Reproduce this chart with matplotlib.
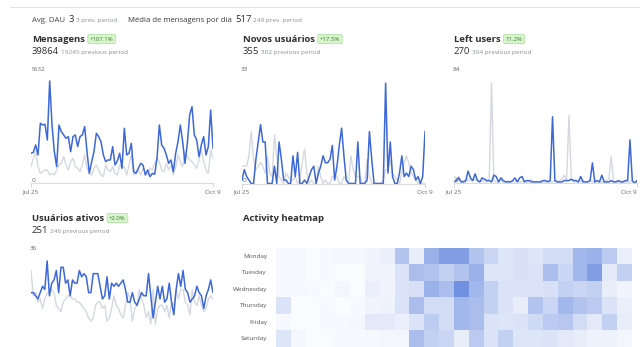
import matplotlib.pyplot as plt
from matplotlib.colors import LinearSegmentedColormap

plt.rcParams['font.family'] = ['Open Sans', 'DejaVu Sans']

############################# data ################################
date_labels = ["Jul 25", "Oct 9"]

msg_cur = [429, 444, 549, 406, 859, 835, 844, 620, 1465, 835,
           453, 239, 835, 739, 692, 644, 668, 453, 668, 692,
           525, 668, 692, 811, 453, 143, 310, 453, 716, 668,
           596, 406, 310, 334, 334, 525, 262, 320, 429, 215,
           787, 406, 429, 572, 167, 143, 215, 286, 262, 119,
           191, 95, 143, 129, 358, 835, 549, 501, 406, 286,
           334, 167, 429, 596, 835, 596, 286, 572, 978, 1097,
           692, 620, 382, 549, 668, 406, 525, 1049, 501]
msg_prev = [239, 358, 453, 239, 143, 167, 191, 191, 119, 143,
            119, 191, 262, 286, 382, 262, 191, 310, 358, 239,
            215, 167, 262, 406, 215, 143, 119, 215, 262, 191,
            119, 95, 262, 191, 167, 239, 143, 119, 262, 215,
            239, 119, 262, 406, 119, 143, 191, 119, 215, 143,
            119, 215, 191, 286, 358, 310, 191, 167, 286, 191,
            262, 119, 239, 406, 310, 239, 453, 382, 334, 310,
            262, 215, 334, 477, 310, 191, 143, 477, 358]

new_cur = [1, 4, 2, 1, 0, 0, 7, 12, 17, 12,
           12, 0, 0, 0, 5, 0, 12, 7, 1, 1,
           0, 0, 8, 2, 9, 0, 0, 1, 0, 2,
           4, 5, 0, 3, 5, 8, 6, 6, 7, 11,
           1, 5, 11, 16, 8, 1, 0, 0, 0, 0,
           12, 0, 0, 0, 1, 15, 7, 0, 0, 0,
           0, 0, 29, 3, 12, 2, 0, 0, 3, 8,
           2, 3, 2, 5, 4, 1, 2, 0, 2, 15]
new_prev = [5, 5, 5, 8, 15, 7, 4, 5, 6, 5,
            3, 8, 3, 2, 14, 8, 2, 1, 0, 3,
            2, 1, 1, 2, 0, 1, 6, 10, 3, 0,
            1, 0, 0, 5, 2, 0, 1, 0, 0, 2,
            2, 2, 0, 0, 2, 1, 0, 8, 4, 2,
            2, 2, 0, 0, 7, 2, 0, 0, 0, 0,
            0, 1, 4, 4, 7, 3, 2, 1, 0, 3,
            6, 8, 6, 3, 2, 1, 0, 0, 0, 0]

left_cur = [1, 2, 4, 1, 1, 2, 9, 4, 2, 7,
            2, 1, 4, 3, 2, 2, 1, 6, 5, 1,
            4, 2, 1, 1, 1, 2, 4, 1, 4, 5,
            1, 2, 2, 1, 1, 1, 1, 1, 2, 2,
            1, 2, 49, 2, 1, 1, 1, 2, 2, 2,
            3, 2, 2, 1, 5, 1, 1, 1, 2, 15,
            1, 2, 1, 6, 1, 1, 1, 2, 1, 1,
            2, 1, 1, 2, 2, 32, 2, 0, 2]
left_prev = [5, 4, 5, 2, 2, 1, 3, 2, 2, 3,
             2, 1, 2, 1, 1, 3, 74, 2, 1, 1,
             2, 1, 1, 2, 1, 1, 1, 2, 1, 1,
             2, 1, 1, 3, 1, 1, 1, 2, 1, 1,
             2, 1, 1, 2, 1, 2, 3, 6, 2, 50,
             3, 1, 2, 1, 1, 2, 1, 1, 2, 1,
             1, 2, 1, 1, 1, 2, 3, 20, 2, 1,
             1, 2, 1, 1, 1, 1, 2, 1, 1]

active_cur = [22, 22, 21, 20, 22, 24, 23, 32, 21, 25,
              26, 29, 22, 30, 30, 25, 26, 21, 26, 25,
              25, 29, 27, 28, 27, 22, 22, 28, 28, 28,
              24, 20, 21, 27, 20, 25, 24, 25, 24, 25,
              26, 23, 19, 19, 22, 19, 18, 20, 22, 21,
              21, 28, 21, 14, 19, 24, 20, 24, 19, 20,
              25, 19, 15, 23, 28, 24, 29, 23, 22, 19,
              20, 21, 24, 22, 21, 17, 21, 23, 26, 22]
active_prev = [29, 21, 22, 19, 20, 17, 20, 22, 22, 23,
               22, 18, 17, 16, 19, 20, 21, 21, 20, 20,
               19, 19, 18, 17, 16, 14, 13, 14, 18, 19,
               19, 17, 18, 13, 14, 17, 21, 18, 17, 15,
               14, 18, 22, 20, 13, 17, 18, 23, 20, 18,
               14, 16, 12, 23, 12, 17, 18, 18, 16, 18,
               14, 19, 18, 23, 20, 23, 23, 19, 18, 15,
               23, 19, 18, 21, 18, 16, 17, 20, 21, 20]

heat_days = ["Monday", "Tuesday", "Wednesday", "Thursday", "Friday", "Saturday"]
heat = [
    [0.03, 0.03, 0.01, 0.02, 0.04, 0.04, 0.06, 0.10, 0.45, 0.12, 0.60, 0.75,
     0.75, 0.45, 0.30, 0.18, 0.22, 0.18, 0.25, 0.25, 0.55, 0.60, 0.40, 0.10],
    [0.03, 0.03, 0.01, 0.02, 0.00, 0.01, 0.06, 0.07, 0.20, 0.50, 0.45, 0.35,
     0.45, 0.60, 0.18, 0.18, 0.22, 0.20, 0.50, 0.30, 0.55, 0.75, 0.15, 0.35],
    [0.03, 0.03, 0.02, 0.01, 0.05, 0.01, 0.10, 0.06, 0.20, 0.22, 0.60, 0.50,
     0.85, 0.55, 0.35, 0.20, 0.20, 0.20, 0.22, 0.35, 0.30, 0.35, 0.12, 0.06],
    [0.20, 0.00, 0.01, 0.02, 0.00, 0.02, 0.06, 0.08, 0.20, 0.50, 0.25, 0.25,
     0.55, 0.50, 0.35, 0.20, 0.12, 0.45, 0.30, 0.55, 0.45, 0.40, 0.20, 0.10],
    [0.03, 0.01, 0.01, 0.02, 0.02, 0.04, 0.15, 0.15, 0.10, 0.20, 0.38, 0.25,
     0.55, 0.50, 0.20, 0.18, 0.20, 0.28, 0.40, 0.42, 0.25, 0.15, 0.35, 0.12],
    [0.18, 0.04, 0.01, 0.01, 0.02, 0.02, 0.03, 0.05, 0.05, 0.50, 0.35, 0.30,
     0.12, 0.40, 0.20, 0.35, 0.18, 0.18, 0.20, 0.15, 0.12, 0.08, 0.08, 0.05],
]

BLUE = "#3d68d8"
GREY = "#d5d8de"
DARK = "#2f2f33"
MUTED = "#8a8d93"
W, H = 640, 347

fig = plt.figure(figsize=(W / 100, H / 100), dpi=100)
bg = fig.add_axes([0, 0, 1, 1])
bg.set_xlim(0, W)
bg.set_ylim(H, 0)
bg.axis("off")
renderer = fig.canvas.get_renderer()


def text_run(x, y, parts):
    # parts: (text, size, color, weight, gap before)
    for s, size, color, weight, gap in parts:
        x += gap
        t = bg.text(x, y, s, fontsize=size, color=color, fontweight=weight,
                    va="baseline", ha="left")
        x += t.get_window_extent(renderer).width
    return x


def badge(x, y, s):
    bg.text(x, y, s, fontsize=4.3, color="#3d7a2e", va="center", ha="left",
            bbox=dict(boxstyle="round,pad=0.35,rounding_size=0.25",
                      fc="#d8f5cd", ec="#a9df98", lw=0.5))


def header(x, y, title, pct, value, prev):
    end = text_run(x, y, [(title, 6.8, DARK, "bold", 0)])
    badge(end + 5, y - 2.5, pct)
    text_run(x, y + 12.5, [(value, 6.8, DARK, "normal", 0),
                           (prev + " previous period", 4.6, MUTED, "normal", 2)])


def panel(x0, x1, ytop, ybot, cur, prev, top, axis=True, last_ha="center"):
    ax = fig.add_axes([x0 / W, (H - ybot) / H, (x1 - x0) / W, (ybot - ytop) / H])
    n = max(len(cur), len(prev))
    ax.plot(range(len(prev)), prev, color=GREY, lw=1.0)
    ax.plot(range(len(cur)), cur, color=BLUE, lw=1.1)
    ax.set_xlim(0, n - 1)
    ax.set_ylim(0, top)
    for side in ["top", "right", "left"]:
        ax.spines[side].set_visible(False)
    ax.spines["bottom"].set_color("#dcdcdc")
    ax.spines["bottom"].set_linewidth(0.8)
    ax.set_yticks([])
    ax.patch.set_alpha(0)
    ax.text(-0.005, 1.0, str(top), transform=ax.transAxes, fontsize=4.6,
            color="#666666", va="center", ha="left")
    if axis:
        ax.set_xticks([0, n - 1])
        labels = ax.set_xticklabels(date_labels, fontsize=4.6, color="#666666")
        labels[-1].set_horizontalalignment(last_ha)
        ax.tick_params(axis="x", length=3, width=0.6, color="#d0d0d0", pad=1.5)
        ax.text(0.003, 0.0, "0", transform=ax.transAxes, fontsize=4.6,
                color="#666666", va="bottom", ha="left")
    else:
        ax.set_xticks([])
    return ax


# top summary strip
bg.plot([10, W], [7, 7], color="#e4e4e4", lw=0.8)
text_run(32, 21.5, [("Avg. DAU", 5.6, "#4a4a4f", "normal", 0),
                    ("3", 6.8, DARK, "normal", 3),
                    ("3 prev. period", 4.6, MUTED, "normal", 2)])
text_run(128, 21.5, [("Média de mensagens por dia", 5.6, "#3a3a3f", "normal", 0),
                     ("517", 6.8, DARK, "normal", 3),
                     ("249 prev. period", 4.6, MUTED, "normal", 2)])

# line panels
header(32, 41.5, "Mensagens", "+107.1%", "39864", "19245")
panel(31, 213, 69.3, 183.3, msg_cur, msg_prev, 1632)

header(243, 41.5, "Novos usuários", "+17.5%", "355", "302")
panel(242, 425, 69.3, 183.5, new_cur, new_prev, 33)

header(454, 41.5, "Left users", "11.2%", "270", "304")
panel(454, 637, 69.3, 183.3, left_cur, left_prev, 84, last_ha="right")

header(32, 220.5, "Usuários ativos", "+2.0%", "251", "246")
panel(31, 213, 248.3, 362.3, active_cur, active_prev, 36, axis=False)

# activity heatmap
text_run(243, 220.5, [("Activity heatmap", 6.8, DARK, "bold", 0)])
cmap = LinearSegmentedColormap.from_list("heat", ["#fbfcff", "#5a7fdb"])
axh = fig.add_axes([276 / W, 0, (632 - 276) / W, (H - 248.3) / H])
axh.imshow(heat, cmap=cmap, vmin=0, vmax=1, aspect="auto", interpolation="nearest")
axh.axis("off")
row_h = (H - 248.3) / len(heat_days)
for i, day in enumerate(heat_days):
    bg.text(267, 248.3 + (i + 0.5) * row_h, day, fontsize=4.6, color="#555555",
            ha="right", va="center")

fig.savefig("out.png", dpi=100)
